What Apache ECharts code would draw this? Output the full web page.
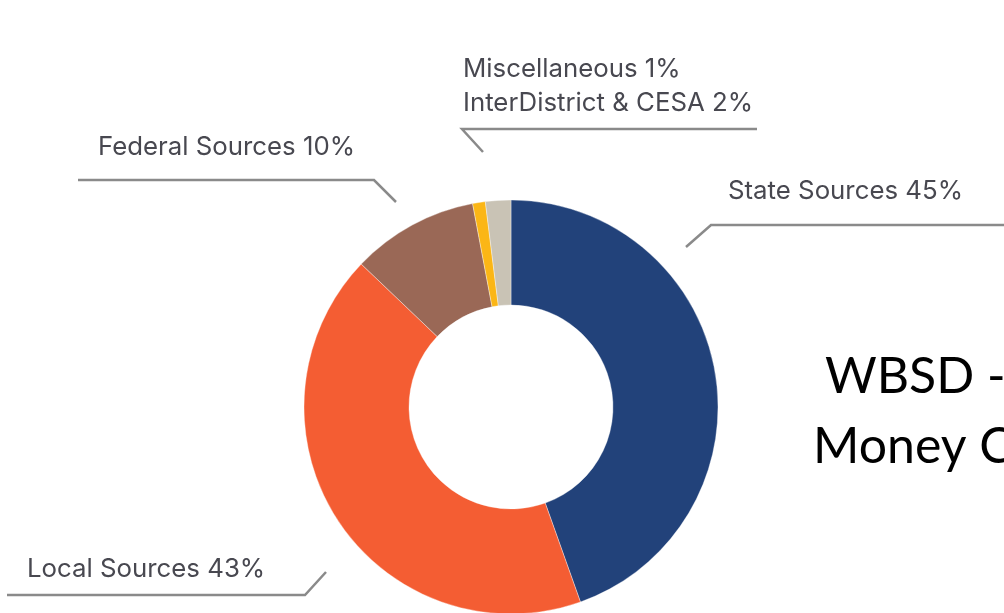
<!DOCTYPE html>
<html>
<head>
<meta charset="utf-8">
<script src="https://cdn.jsdelivr.net/npm/echarts@6/dist/echarts.min.js"></script>
<style>
  html, body { margin: 0; padding: 0; background: #fff; }
  #chart { width: 1004px; height: 613px; }
</style>
</head>
<body>
<div id="chart"></div>
<script>
// 数据
const names = ['State Sources', 'Local Sources', 'Federal Sources', 'Miscellaneous', 'InterDistrict & CESA'];
const values = [45, 43, 10, 1, 2];
const colors = ['#22427a', '#f45d33', '#9a6856', '#fbb616', '#c9c3b5'];

const chart = echarts.init(document.getElementById('chart'));

function lbl(i) {
    return names[i] + ' ' + values[i] + '%';
}

const labelStyle = { fill: '#484850', fontSize: 25.8, fontFamily: 'Inter, sans-serif' };
const lineStyle = { stroke: '#8a8a8a', lineWidth: 2.5, fill: null };

function text(str, x, y, style) {
    return { type: 'text', left: x, top: y, style: Object.assign({ text: str }, style) };
}
function poly(points) {
    return { type: 'polyline', shape: { points: points }, style: lineStyle, silent: true };
}

const option = {
    backgroundColor: '#ffffff',
    animation: false,
    series: [{
        type: 'pie',
        center: [511, 407],
        radius: [102, 207],
        startAngle: 90,
        clockwise: true,
        label: { show: false },
        labelLine: { show: false },
        itemStyle: { borderColor: 'rgba(255,255,255,0.6)', borderWidth: 0.6 },
        data: names.map((n, i) => ({ name: n, value: values[i], itemStyle: { color: colors[i] } }))
    }],
    graphic: [
        text(lbl(3), 463, 56, labelStyle),
        text(lbl(4), 463, 90, labelStyle),
        text(lbl(2), 98, 134, labelStyle),
        text(lbl(0), 728, 178, labelStyle),
        text(lbl(1), 27, 556, labelStyle),
        poly([[483, 152], [462, 129], [757, 129]]),
        poly([[78, 180], [374, 180], [396, 202]]),
        poly([[686, 247], [711, 225], [1010, 225]]),
        poly([[7, 595], [305, 595], [326, 572]]),
        text('WBSD -', 825, 352, { fill: '#000', fontSize: 50, fontFamily: 'Lato, sans-serif' }),
        text('Money C', 813, 422, { fill: '#000', fontSize: 50, fontFamily: 'Lato, sans-serif' })
    ]
};

chart.setOption(option);
window.addEventListener('resize', function() { chart.resize(); });
</script>
</body>
</html>
